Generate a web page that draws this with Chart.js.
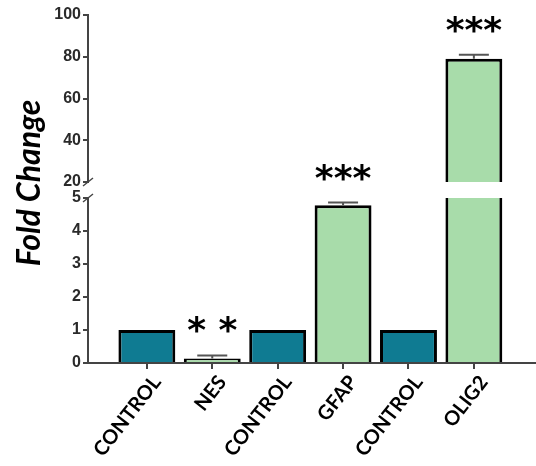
<!DOCTYPE html>
<html>
<head>
<meta charset="utf-8">
<script src="https://cdn.jsdelivr.net/npm/chart.js@4.4.1/dist/chart.umd.min.js"></script>
<style>
  html, body { margin: 0; padding: 0; background: #fff; }
  #wrap { width: 536px; height: 466px; }
</style>
</head>
<body>
<div id="wrap"><canvas id="chart"></canvas></div>
<script>
// Data
const categories = ['CONTROL', 'NES', 'CONTROL', 'GFAP', 'CONTROL', 'OLIG2'];
const foldChange = [1.0, 0.14, 1.0, 4.78, 1.0, 79];
const errors = [0, 0.09, 0, 0.08, 0, 2];
const stars = ['', '* *', '', '***', '', '***'];
const lowerTicks = [0, 1, 2, 3, 4, 5];
const upperTicks = [20, 40, 60, 80, 100];

const lowerMax = 5;
const upperMin = 20;
const TEAL = '#0f7b92';
const GREEN = '#a8dcaa';
const AXIS = '#444';

const colorFor = i => categories[i] === 'CONTROL' ? TEAL : GREEN;

// lower segment: values clipped at the break; upper segment: floating from 20
const lowerData = foldChange.map((v, i) => ({ x: i, y: Math.min(v, lowerMax) }));
const upperData = foldChange.map((v, i) => ({ x: i, y: v > upperMin ? [upperMin, v] : null }));

const yTickFont = { family: 'Liberation Sans, Arial, sans-serif', size: 16, weight: 'bold' };

function yAxis(min, max, ticks, weight, stackWeight) {
  return {
    type: 'linear', position: 'left', stack: 'y', stackWeight: stackWeight, weight: weight,
    min: min, max: max,
    afterBuildTicks: s => { s.ticks = ticks.map(v => ({ value: v })); },
    afterFit: s => { s.width = 88; },
    border: { display: true, color: AXIS, width: 2 },
    grid: { drawOnChartArea: false, drawTicks: true, tickLength: 5, color: AXIS, lineWidth: 2 },
    ticks: { autoSkip: false, color: '#2a2a2a', font: yTickFont, padding: 2 }
  };
}

const extras = {
  id: 'extras',
  afterDatasetsDraw(chart) {
    const { ctx, scales } = chart;
    const xs = scales.x, lo = scales.yLow, hi = scales.yHigh, gap = scales.yGap;
    ctx.save();
    // error bars + significance stars
    foldChange.forEach((v, i) => {
      const s = v > lowerMax ? hi : lo;
      const x = xs.getPixelForValue(i);
      const yTop = s.getPixelForValue(v + errors[i]);
      if (errors[i] > 0) {
        ctx.strokeStyle = '#555';
        ctx.lineWidth = 2;
        ctx.beginPath();
        ctx.moveTo(x, s.getPixelForValue(v));
        ctx.lineTo(x, yTop);
        ctx.moveTo(x - 15, yTop);
        ctx.lineTo(x + 15, yTop);
        ctx.stroke();
      }
      if (stars[i]) {
        ctx.fillStyle = '#000';
        ctx.font = 'bold 36px "DejaVu Sans", sans-serif';
        ctx.textAlign = 'center';
        ctx.textBaseline = 'alphabetic';
        ctx.fillText(stars[i], x, yTop - 13);
      }
    });
    // axis break marks
    const ax = chart.chartArea.left;
    ctx.strokeStyle = AXIS;
    ctx.lineWidth = 1.5;
    [gap.top, gap.bottom].forEach(y => {
      ctx.beginPath();
      ctx.moveTo(ax - 5, y + 4);
      ctx.lineTo(ax + 5, y - 4);
      ctx.stroke();
    });
    // y title
    ctx.fillStyle = '#000';
    ctx.font = 'italic bold 32px Lato, sans-serif';
    ctx.textAlign = 'center';
    ctx.textBaseline = 'middle';
    ctx.translate(30, 183);
    ctx.rotate(-Math.PI / 2);
    ctx.fillText('Fold Change', 0, 0);
    ctx.restore();
  }
};

new Chart(document.getElementById('chart'), {
  type: 'bar',
  data: {
    datasets: [
      {
        data: lowerData, yAxisID: 'yLow', grouped: false,
        backgroundColor: ctx => colorFor(ctx.dataIndex),
        borderColor: '#000',
        borderWidth: ctx => foldChange[ctx.dataIndex] > lowerMax ? { top: 0, left: 3, right: 3, bottom: 0 } : 3,
        barPercentage: 0.87, categoryPercentage: 1
      },
      {
        data: upperData, yAxisID: 'yHigh', grouped: false,
        backgroundColor: ctx => colorFor(ctx.dataIndex),
        borderColor: '#000', borderWidth: 3,
        barPercentage: 0.87, categoryPercentage: 1
      }
    ]
  },
  options: {
    responsive: true,
    maintainAspectRatio: false,
    animation: false,
    layout: { padding: { top: 15, right: 0, left: 0, bottom: 0 } },
    plugins: { legend: { display: false }, tooltip: { enabled: false } },
    scales: {
      x: {
        type: 'linear', min: -0.9, max: 5.95, offset: false,
        afterBuildTicks: s => { s.ticks = categories.map((c, i) => ({ value: i })); },
        afterFit: s => { s.height = 103; },
        border: { display: true, color: AXIS, width: 2 },
        grid: { offset: false, drawOnChartArea: false, drawTicks: true, tickLength: 6, color: AXIS, lineWidth: 2 },
        ticks: {
          autoSkip: false, minRotation: 52, maxRotation: 52, padding: 2, labelOffset: 10,
          color: '#000', font: { family: 'Lato, sans-serif', size: 20, weight: 'bold' },
          callback: v => categories[Math.round(v)]
        }
      },
      yHigh: yAxis(upperMin, 100, upperTicks, 3, 167),
      yGap: {
        type: 'linear', position: 'left', stack: 'y', stackWeight: 16, weight: 2,
        min: 0, max: 1,
        border: { display: false },
        grid: { display: false },
        ticks: { display: false }
      },
      yLow: yAxis(0, lowerMax, lowerTicks, 1, 165)
    }
  },
  plugins: [extras]
});
</script>
</body>
</html>
